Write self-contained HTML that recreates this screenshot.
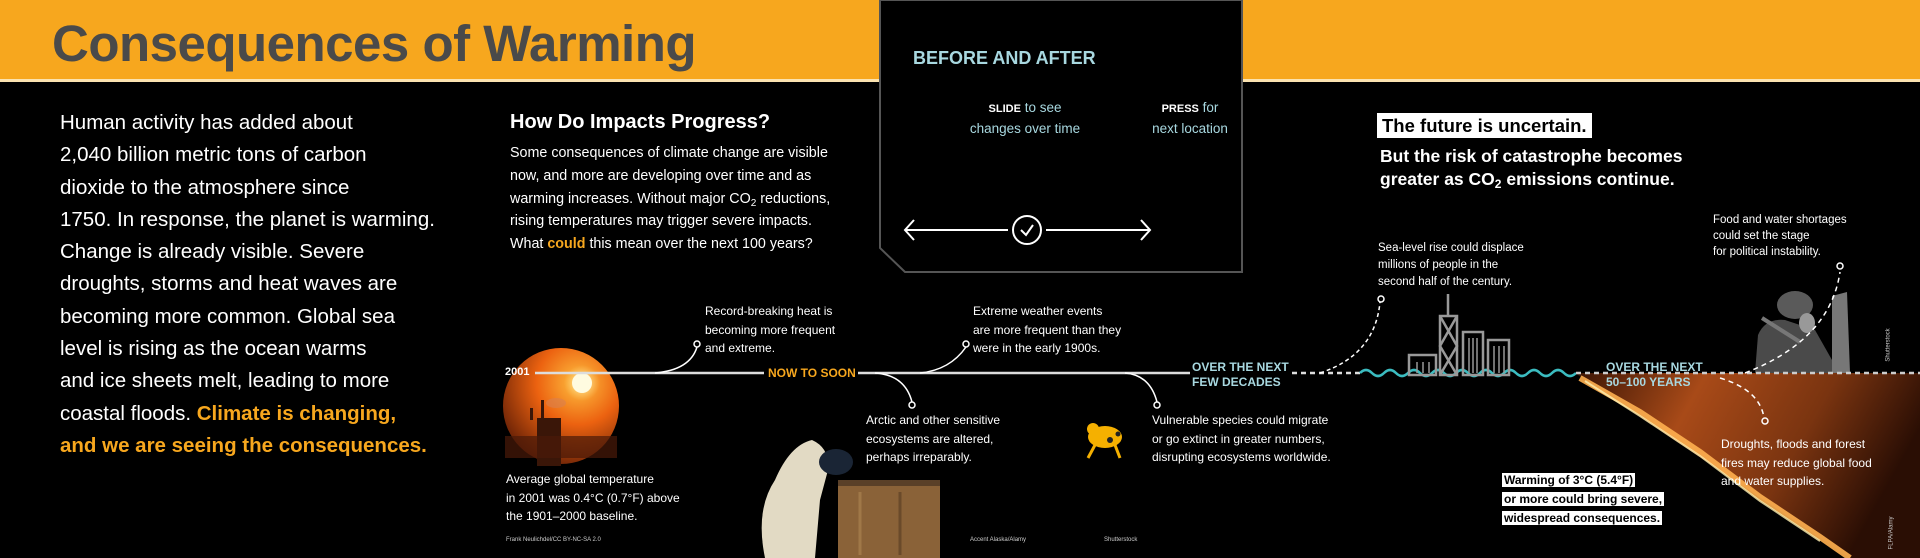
<!DOCTYPE html>
<html><head><meta charset="utf-8">
<style>
*{margin:0;padding:0;box-sizing:border-box}
body{width:1920px;height:558px;background:#000;overflow:hidden;position:relative;font-family:"Liberation Sans",sans-serif;color:#fff}
.a{position:absolute;white-space:nowrap}
sub{line-height:0;vertical-align:-3px}
</style></head><body>
<div class="a" style="left:0;top:0;width:1920px;height:82px;background:#f7a71e;border-bottom:3px solid #fbe3b0"></div>
<div class="a" style="left:52px;top:14px;font-size:51px;font-weight:bold;color:#4a4a4a;letter-spacing:-0.5px">Consequences of Warming</div>

<div class="a" style="left:60px;top:107px;font-size:20.5px;line-height:32.3px">Human activity has added about<br>2,040 billion metric tons of carbon<br>dioxide to the atmosphere since<br>1750. In response, the planet is warming.<br>Change is already visible. Severe<br>droughts, storms and heat waves are<br>becoming more common. Global sea<br>level is rising as the ocean warms<br>and ice sheets melt, leading to more<br>coastal floods. <span style="color:#f7a71e;font-weight:bold">Climate is changing,<br>and we are seeing the consequences.</span></div>

<div class="a" style="left:510px;top:111px;font-size:20px;font-weight:bold">How Do Impacts Progress?</div>
<div class="a" style="left:510px;top:142px;font-size:14.3px;line-height:22.8px">Some consequences of climate change are visible<br>now, and more are developing over time and as<br>warming increases. Without major CO<sub style="font-size:10px">2</sub> reductions,<br>rising temperatures may trigger severe impacts.<br>What <b style="color:#f7a71e">could</b> this mean over the next 100 years?</div>

<svg class="a" style="left:0;top:0" width="1920" height="558">
<defs>
<radialGradient id="sun" cx="0.65" cy="0.3" r="0.8"><stop offset="0" stop-color="#ffc040"/><stop offset="0.45" stop-color="#ec6210"/><stop offset="1" stop-color="#5a1a05"/></radialGradient>
<linearGradient id="fire" x1="0" y1="0" x2="1" y2="0.3"><stop offset="0" stop-color="#3a1404"/><stop offset="0.35" stop-color="#a84a18"/><stop offset="0.7" stop-color="#7a3410"/><stop offset="1" stop-color="#2a0e04"/></linearGradient>
<radialGradient id="glow" cx="0.5" cy="0.5" r="0.5"><stop offset="0" stop-color="#fff8d0"/><stop offset="1" stop-color="#ffd070" stop-opacity="0"/></radialGradient>
</defs>
<g>
<path d="M880 0 H1242 V272 H905 L880 248 Z" fill="#000" stroke="#555" stroke-width="2"/>
<line x1="905" y1="230" x2="1008" y2="230" stroke="#fff" stroke-width="2"/>
<polyline points="914,220 905,230 914,240" fill="none" stroke="#fff" stroke-width="2"/>
<circle cx="1027" cy="230" r="14" fill="none" stroke="#fff" stroke-width="2"/>
<polyline points="1021,230 1026,235 1033,225" fill="none" stroke="#fff" stroke-width="2"/>
<line x1="1046" y1="230" x2="1150" y2="230" stroke="#fff" stroke-width="2"/>
<polyline points="1141,220 1150,230 1141,240" fill="none" stroke="#fff" stroke-width="2"/>
</g>
<g>
<polygon points="1575,373 1920,373 1920,558 1850,558" fill="url(#fire)"/>
<polyline points="1580,378 1640,412 1700,452 1760,497 1820,537 1850,558" fill="none" stroke="#ffb050" stroke-width="6" opacity="0.9"/>
<polyline points="1585,381 1640,416 1700,456 1760,501 1820,541" fill="none" stroke="#fff0b0" stroke-width="2" opacity="0.8"/>
</g>
<g>
<path d="M1755 373 L1758 335 Q1765 318 1785 320 L1815 330 L1832 360 L1832 373 Z" fill="#4a4a4a"/>
<ellipse cx="1795" cy="305" rx="18" ry="14" fill="#5a5a5a"/>
<ellipse cx="1807" cy="323" rx="8" ry="10" fill="#999"/>
<line x1="1762" y1="318" x2="1800" y2="342" stroke="#777" stroke-width="4"/>
<polygon points="1832,296 1847,292 1850,373 1832,373" fill="#777"/>
</g>
<g>
<circle cx="561" cy="406" r="58" fill="url(#sun)"/>
<circle cx="582" cy="383" r="18" fill="url(#glow)"/>
<circle cx="582" cy="383" r="10" fill="#fffbe0"/>
<rect x="537" y="418" width="24" height="48" fill="#3a1608"/>
<rect x="505" y="436" width="112" height="22" fill="#4a1a08" opacity="0.7"/>
<rect x="541" y="400" width="3" height="18" fill="#3a1608"/><rect x="530" y="408" width="3" height="12" fill="#3a1608"/>
<ellipse cx="556" cy="403" rx="10" ry="5" fill="#d88050" opacity="0.6"/>
</g>
<g>
<line x1="535" y1="373" x2="764" y2="373" stroke="#ddd" stroke-width="2.5"/>
<line x1="858" y1="373" x2="1190" y2="373" stroke="#ddd" stroke-width="2.5"/>
<line x1="1292" y1="373" x2="1360" y2="373" stroke="#ddd" stroke-width="2.5" stroke-dasharray="5 4"/>
<path d="M1360 373 q6 -6 12 0 t12 0 t12 0 t12 0 t12 0 t12 0 t12 0 t12 0 t12 0 t12 0 t12 0 t12 0 t12 0 t12 0 t12 0 t12 0 t12 0 t12 0" fill="none" stroke="#3bbcc0" stroke-width="2.5"/>
<line x1="1576" y1="373" x2="1920" y2="373" stroke="#ccc" stroke-width="2.5" stroke-dasharray="5 4"/>
</g>
<g fill="none" stroke="#fff" stroke-width="1.5">
<path d="M655 373 Q690 370 697 347"/><circle cx="697" cy="344" r="3"/>
<path d="M920 373 Q950 370 966 347"/><circle cx="966" cy="344" r="3"/>
<path d="M875 373 Q905 375 912 402"/><circle cx="912" cy="405" r="3"/>
<path d="M1125 373 Q1150 375 1157 402"/><circle cx="1157" cy="405" r="3"/>
<path d="M1320 373 Q1375 355 1380 302" stroke-dasharray="4 3"/><circle cx="1381" cy="299" r="3"/>
<path d="M1745 373 Q1830 340 1840 272" stroke-dasharray="5 4"/><circle cx="1840" cy="266" r="3"/>
<path d="M1720 378 Q1760 390 1764 418" stroke-dasharray="5 4"/><circle cx="1765" cy="421" r="3"/>
</g>
<g fill="none" stroke="#999" stroke-width="2.5">
<rect x="1409" y="355" width="27" height="20"/>
<rect x="1440" y="316" width="17" height="59"/><line x1="1448" y1="294" x2="1448" y2="316"/>
<path d="M1440 316 L1457 346 L1440 375 M1457 316 L1440 346 L1457 375"/>
<rect x="1463" y="332" width="20" height="43"/><rect x="1488" y="340" width="21" height="35"/>
</g>
<g stroke="#999" stroke-width="1.5">
<line x1="1417" y1="362" x2="1417" y2="373"/><line x1="1423" y1="362" x2="1423" y2="373"/><line x1="1429" y1="362" x2="1429" y2="373"/>
<line x1="1469" y1="338" x2="1469" y2="373"/><line x1="1473" y1="338" x2="1473" y2="373"/><line x1="1477" y1="338" x2="1477" y2="373"/>
<line x1="1494" y1="346" x2="1494" y2="373"/><line x1="1499" y1="346" x2="1499" y2="373"/><line x1="1504" y1="346" x2="1504" y2="373"/>
</g>
<g>
<path d="M765 558 Q755 510 775 480 Q790 445 812 440 Q830 448 828 470 L820 500 L815 558 Z" fill="#e2dac4"/>
<ellipse cx="836" cy="462" rx="17" ry="13" fill="#1a2535"/>
<rect x="838" y="482" width="102" height="76" fill="#8a6238"/>
<rect x="838" y="480" width="102" height="6" fill="#5a4028"/>
<line x1="860" y1="492" x2="860" y2="555" stroke="#a07848" stroke-width="3"/>
<line x1="900" y1="492" x2="900" y2="555" stroke="#6a4a2a" stroke-width="3"/>
</g>
<g>
<ellipse cx="1105" cy="437" rx="17" ry="11" fill="#f5b000"/>
<circle cx="1093" cy="429" r="6" fill="#f5b000"/>
<circle cx="1110" cy="440" r="3" fill="#222"/><circle cx="1118" cy="434" r="2.5" fill="#222"/>
<line x1="1095" y1="445" x2="1088" y2="458" stroke="#f5b000" stroke-width="3"/>
<line x1="1115" y1="445" x2="1120" y2="458" stroke="#f5b000" stroke-width="3"/>
</g>
</svg>

<div class="a" style="left:913px;top:48px;font-size:18px;font-weight:bold;color:#a8d8e0">BEFORE AND AFTER</div>
<div class="a" style="left:955px;top:98px;width:140px;text-align:center;font-size:13.5px;line-height:19px;color:#a8d8e0"><b style="color:#fff;font-size:11px">SLIDE</b> to see<br>changes over time</div>
<div class="a" style="left:1140px;top:98px;width:100px;text-align:center;font-size:13.5px;line-height:19px;color:#a8d8e0"><b style="color:#fff;font-size:11px">PRESS</b> for<br>next location</div>

<div class="a" style="left:1377px;top:113px;background:#fff;color:#000;font-size:18.5px;font-weight:bold;padding:1px 5px;line-height:23px">The future is uncertain.</div>
<div class="a" style="left:1380px;top:145px;font-size:17.5px;font-weight:bold;line-height:23px">But the risk of catastrophe becomes<br>greater as CO<sub style="font-size:12px">2</sub> emissions continue.</div>

<div class="a" style="left:505px;top:366px;font-size:11px;font-weight:bold">2001</div>
<div class="a" style="left:768px;top:366px;font-size:12px;font-weight:bold;color:#f7a71e">NOW TO SOON</div>
<div class="a" style="left:1192px;top:360px;font-size:12px;font-weight:bold;color:#a8d8e0;line-height:15px">OVER THE NEXT<br>FEW DECADES</div>
<div class="a" style="left:1606px;top:360px;font-size:12px;font-weight:bold;color:#a8d8e0;line-height:15px">OVER THE NEXT<br>50–100 YEARS</div>

<div class="a" style="left:705px;top:302px;font-size:12px;line-height:18.5px">Record-breaking heat is<br>becoming more frequent<br>and extreme.</div>
<div class="a" style="left:973px;top:302px;font-size:12px;line-height:18.5px">Extreme weather events<br>are more frequent than they<br>were in the early 1900s.</div>
<div class="a" style="left:866px;top:411px;font-size:12px;line-height:18.5px">Arctic and other sensitive<br>ecosystems are altered,<br>perhaps irreparably.</div>
<div class="a" style="left:1152px;top:411px;font-size:12px;line-height:18.5px">Vulnerable species could migrate<br>or go extinct in greater numbers,<br>disrupting ecosystems worldwide.</div>
<div class="a" style="left:506px;top:470px;font-size:12px;line-height:18.5px">Average global temperature<br>in 2001 was 0.4°C (0.7°F) above<br>the 1901–2000 baseline.</div>
<div class="a" style="left:1378px;top:240px;font-size:11.5px;line-height:17px">Sea-level rise could displace<br>millions of people in the<br>second half of the century.</div>
<div class="a" style="left:1713px;top:212px;font-size:11.5px;line-height:16px">Food and water shortages<br>could set the stage<br>for political instability.</div>
<div class="a" style="left:1721px;top:435px;font-size:12px;line-height:18.5px">Droughts, floods and forest<br>fires may reduce global food<br>and water supplies.</div>
<div class="a" style="left:1502px;top:471px;font-size:12px;line-height:19px;color:#000;font-weight:bold"><span style="background:#fff;padding:0 2px">Warming of 3°C (5.4°F)</span><br><span style="background:#fff;padding:0 2px">or more could bring severe,</span><br><span style="background:#fff;padding:0 2px">widespread consequences.</span></div>

<div class="a" style="left:506px;top:537px;font-size:6px;color:#ccc">Frank Neulichdel/CC BY-NC-SA 2.0</div>
<div class="a" style="left:970px;top:537px;font-size:6px;color:#ccc">Accent Alaska/Alamy</div>
<div class="a" style="left:1104px;top:537px;font-size:6px;color:#ccc">Shutterstock</div>
<div class="a" style="left:1872px;top:342px;font-size:6px;color:#ccc;transform:rotate(-90deg)">Shutterstock</div>
<div class="a" style="left:1875px;top:530px;font-size:6px;color:#ccc;transform:rotate(-90deg)">FLPA/Alamy</div>
</body></html>
